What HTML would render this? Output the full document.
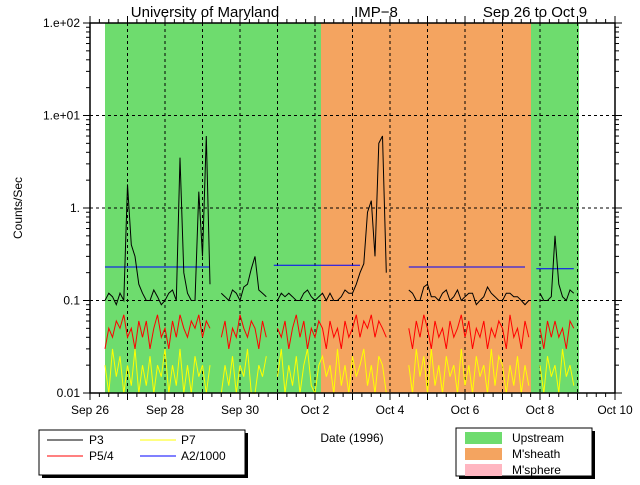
<!DOCTYPE html>
<html><head><meta charset="utf-8"><style>
body{margin:0;background:#fff;}
svg text{font-family:"Liberation Sans",sans-serif;fill:#000;}
</style></head><body>
<svg id="chart" width="640" height="480" viewBox="0 0 640 480" xmlns="http://www.w3.org/2000/svg">
<g id="bg"></g><g id="grid"></g><g id="series"></g><g id="axes"></g>
<text x="205" y="17" font-size="15" text-anchor="middle">University of Maryland</text>
<text x="376" y="17" font-size="15" text-anchor="middle">IMP−8</text>
<text x="535" y="17" font-size="15" text-anchor="middle">Sep 26 to Oct 9</text>
<text transform="translate(22,208) rotate(-90)" font-size="12" text-anchor="middle">Counts/Sec</text>
<text x="352" y="442" font-size="12" text-anchor="middle">Date (1996)</text>
<g>
<rect x="42" y="433" width="206" height="45" fill="#000"/>
<rect x="39" y="430" width="206" height="45" fill="#fff" stroke="#000"/>
<line x1="47" y1="440" x2="83" y2="440" stroke="#000"/><text x="89" y="444" font-size="12">P3</text>
<line x1="47" y1="456" x2="83" y2="456" stroke="#f00"/><text x="89" y="460" font-size="12">P5/4</text>
<line x1="140" y1="440" x2="176" y2="440" stroke="#ff0"/><text x="181" y="444" font-size="12">P7</text>
<line x1="140" y1="456" x2="176" y2="456" stroke="#00f"/><text x="181" y="460" font-size="12">A2/1000</text>
</g>
<g>
<rect x="459" y="431" width="136" height="48" fill="#000"/>
<rect x="456" y="428" width="136" height="48" fill="#fff" stroke="#000"/>
<rect x="465" y="432" width="37" height="12" fill="#6edc6e"/><text x="512" y="442" font-size="12">Upstream</text>
<rect x="465" y="448" width="37" height="12" fill="#f4a460"/><text x="512" y="458" font-size="12">M'sheath</text>
<rect x="465" y="464" width="37" height="12" fill="#ffb6c1"/><text x="512" y="474" font-size="12">M'sphere</text>
</g>
</svg>
<script>
const startDay = 0.4;
const stepDay = 0.1;
const p3 = [.1,.12,.11,.09,.12,.1,1.8,.4,.3,.15,
.12,.1,.1,.13,.11,.09,.1,.12,.13,.1,
3.5,.2,.12,.1,.1,1.5,.3,6,.15,null,
null,.12,.11,.1,.13,.12,.1,.14,.15,.22,
.3,.13,.12,.11,null,null,.1,.12,.11,.12,
.11,.1,.1,.12,.13,.11,.1,.11,.12,.1,
.12,.1,.1,.11,.13,.12,.12,.15,.2,.25,
.9,1.2,.3,5,6,.2,null,null,null,null,
null,.13,.12,.1,.1,.14,.15,.11,.11,.1,
.12,.13,.1,.11,.13,.1,.11,.12,.12,.09,
.1,.11,.14,.12,.11,.1,.1,.12,.12,.11,
.11,.1,.09,.1,null,null,.12,.1,.1,.11,
.5,.15,.11,.1,.13,.12,null];
const p54 = [.03,.05,.04,.06,.05,.07,.04,.05,.03,.06,
.04,.06,.03,.05,.07,.04,.05,.03,.06,.04,
.07,.05,.04,.06,.05,.07,.04,.06,.05,null,
null,.04,.06,.03,.05,.04,.07,.05,.04,.06,
.05,.03,.06,.04,null,null,.05,.04,.06,.03,
.05,.07,.04,.06,.03,.05,.04,.06,.05,.03,
.06,.04,.05,.03,.06,.04,.05,.07,.04,.06,
.05,.07,.04,.06,.05,.04,null,null,null,null,
null,.05,.03,.06,.04,.07,.05,.03,.06,.04,
.05,.03,.06,.04,.05,.07,.04,.06,.03,.05,
.04,.06,.03,.05,.04,.06,.05,.03,.07,.04,
.05,.03,.06,.04,null,null,.05,.03,.06,.04,
.06,.04,.05,.03,.06,.05,null];
const p7 = [.02,.008,.03,.015,.025,.009,.02,.012,.03,.008,
.02,.012,.025,.008,.02,.015,.03,.009,.02,.012,
.03,.01,.02,.008,.025,.015,.02,.009,.02,null,
null,.009,.02,.012,.025,.008,.02,.015,.03,.01,
.008,.02,.015,.025,null,null,.015,.03,.008,.02,
.012,.025,.009,.02,.03,.012,.008,.02,.025,.015,
.02,.009,.03,.012,.02,.008,.025,.015,.02,.03,
.012,.02,.008,.025,.02,.01,null,null,null,null,
null,.02,.008,.03,.015,.025,.009,.03,.012,.02,
.008,.025,.015,.02,.009,.03,.012,.02,.008,.025,
.015,.02,.009,.03,.012,.025,.02,.008,.02,.012,
.025,.009,.02,.012,null,null,.02,.009,.025,.015,
.02,.01,.03,.015,.02,.012,null];
const a2 = [.23,.23,.23,.23,.23,.23,.23,.23,.23,.23,
.23,.23,.23,.23,.23,.23,.23,.23,.23,.23,
.23,.23,.23,.23,.23,.23,.23,.23,.23,null,
null,null,null,null,null,null,null,null,null,null,
null,null,null,null,null,.24,.24,.24,.24,.24,
.24,.24,.24,.24,.24,.24,.24,.24,.24,.24,
.24,.24,.24,.24,.24,.24,.24,.24,.24,null,
null,null,null,null,null,null,null,null,null,null,
null,.23,.23,.23,.23,.23,.23,.23,.23,.23,
.23,.23,.23,.23,.23,.23,.23,.23,.23,.23,
.23,.23,.23,.23,.23,.23,.23,.23,.23,.23,
.23,.23,.23,null,null,.22,.22,.22,.22,.22,
.22,.22,.22,.22,.22,.22,null];
const regionStarts = [0.4,6.16,11.76];
const regionEnds = [6.16,11.76,13.04];
const regionKinds = ["up","sheath","up"];
const xTickLabels = ["Sep 26","Sep 28","Sep 30","Oct 2","Oct 4","Oct 6","Oct 8","Oct 10"];
const yTickLabels = ["0.01","0.1","1.","1.e+01","1.e+02"];
const yTickValues = [0.01,0.1,1,10,100];

const X0=90,X1=615,Y0=393,Y1=23,DAYS=14;
const sx=d=>X0+(X1-X0)*d/DAYS;
const sy=v=>Y0-(Y0-Y1)*(Math.log10(v)+2)/4;
const dayAt=i=>startDay+stepDay*i;
const NS="http://www.w3.org/2000/svg";
function mk(tag,parent,attrs){const e=document.createElementNS(NS,tag);for(const k in attrs)e.setAttribute(k,attrs[k]);parent.appendChild(e);return e;}
const bg=document.getElementById('bg'),grid=document.getElementById('grid'),ser=document.getElementById('series'),ax=document.getElementById('axes');
const colors={up:"#6edc6e",sheath:"#f4a460"};
regionStarts.forEach((s,i)=>{const r=mk('rect',bg,{x:sx(s),y:Y1,width:sx(regionEnds[i])-sx(s),height:Y0-Y1,fill:colors[regionKinds[i]]});

});
for(let d=1;d<DAYS;d++){mk('line',grid,{x1:sx(d),x2:sx(d),y1:Y1,y2:Y0,stroke:"#000","stroke-dasharray":"3,3"});}
yTickValues.forEach(v=>{if(v>0.01&&v<100)mk('line',grid,{x1:X0,x2:X1,y1:sy(v),y2:sy(v),stroke:"#000","stroke-dasharray":"3,3"});});
function clip(v){return Math.max(v,0.0099);}
function drawLine(arr,color,name){let d="",pen=false;arr.forEach((v,i)=>{if(v==null){pen=false;return;}d+=(pen?"L":"M")+sx(dayAt(i)).toFixed(1)+" "+sy(clip(v)).toFixed(1)+" ";pen=true;});
const p=mk('path',ser,{d:d,fill:"none",stroke:color,"stroke-width":1});

}
drawLine(p7,"#ff0","series-p7");
drawLine(p54,"#f00","series-p5-4");
drawLine(a2,"#00f","series-a2");
drawLine(p3,"#000","series-p3");
mk('rect',ax,{x:X0,y:Y1,width:X1-X0,height:Y0-Y1,fill:"none",stroke:"#000","stroke-width":1.5});
for(let q=0;q<=DAYS*4;q++){const x=sx(q/4),L=q%4==0?7:4;mk('line',ax,{x1:x,x2:x,y1:Y0,y2:Y0+L,stroke:"#000"});mk('line',ax,{x1:x,x2:x,y1:Y1,y2:Y1-L,stroke:"#000"});}
xTickLabels.forEach((t,i)=>{const e=mk('text',ax,{x:sx(i*2),y:414,"font-size":12,"text-anchor":"middle"});e.textContent=t;

});
for(let dec=-2;dec<2;dec++)for(let m=1;m<10;m++){const y=sy(m*Math.pow(10,dec)),L=m==1?7:4;mk('line',ax,{x1:X0-L,x2:X0,y1:y,y2:y,stroke:"#000"});mk('line',ax,{x1:X1,x2:X1+L,y1:y,y2:y,stroke:"#000"});}
mk('line',ax,{x1:X0-7,x2:X0,y1:Y1,y2:Y1,stroke:"#000"});mk('line',ax,{x1:X1,x2:X1+7,y1:Y1,y2:Y1,stroke:"#000"});
yTickLabels.forEach((t,i)=>{const e=mk('text',ax,{x:X0-10,y:sy(yTickValues[i])+4,"font-size":12,"text-anchor":"end"});e.textContent=t;

});
</script>
</body></html>
